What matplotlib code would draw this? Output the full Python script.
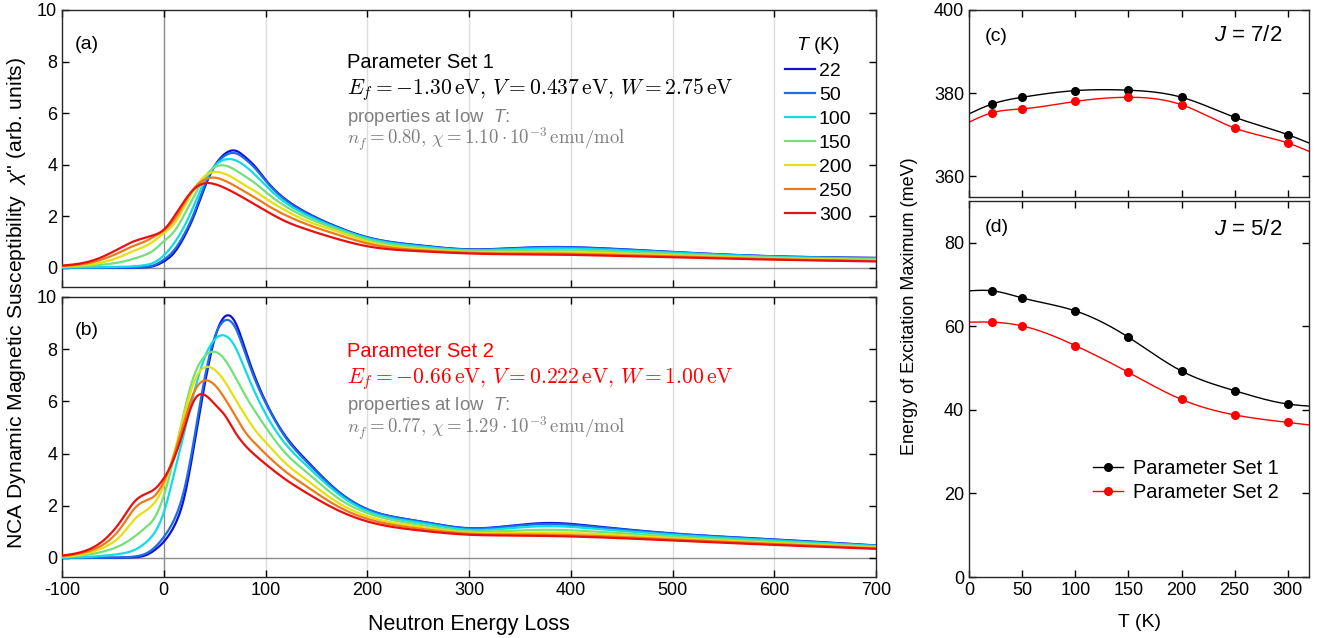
import numpy as np
import matplotlib
matplotlib.use('Agg')
import matplotlib.pyplot as plt

plt.rcParams['font.family'] = ['Liberation Sans', 'DejaVu Sans']
plt.rcParams['mathtext.fontset'] = 'cm'
plt.rcParams['mathtext.rm'] = 'Liberation Sans'
plt.rcParams['mathtext.it'] = 'Liberation Sans:italic'
plt.rcParams['mathtext.bf'] = 'Liberation Sans:bold'
plt.rcParams['axes.unicode_minus'] = False
plt.rcParams['xtick.direction'] = 'in'
plt.rcParams['ytick.direction'] = 'in'
plt.rcParams['xtick.top'] = True
plt.rcParams['ytick.right'] = True
plt.rcParams['axes.linewidth'] = 1.0
plt.rcParams['axes.edgecolor'] = '#262626'

# ---------------- data ----------------
temps = [22, 50, 100, 150, 200, 250, 300]
temp_colors = ['#1010d8', '#1a6ee6', '#10dce6', '#74e07a', '#e6e010', '#f07818', '#e81010']

energy_a = [-100, -76, -59, -43, -30, -20, -10, 0, 10, 20, 30, 40, 50, 60, 70, 80, 90, 100,
            120, 140, 170, 200, 250, 300, 340, 380, 420, 500, 600, 700]
chi_a_22 = [0.0, 0.0, 0.0, 0.0, 0.01, 0.02, 0.07, 0.25, 0.58, 1.2, 2.05, 3.1, 3.95, 4.42, 4.55, 4.3, 3.92, 3.42,
            2.65, 2.15, 1.6, 1.19, 0.88, 0.72, 0.76, 0.81, 0.78, 0.62, 0.45, 0.39]
chi_a_50 = [0.0, 0.0, 0.0, 0.01, 0.02, 0.04, 0.1, 0.32, 0.68, 1.3, 2.15, 3.2, 3.95, 4.35, 4.45, 4.22, 3.85, 3.38,
            2.62, 2.12, 1.58, 1.18, 0.87, 0.71, 0.75, 0.80, 0.77, 0.61, 0.45, 0.38]
chi_a_100 = [0.01, 0.02, 0.03, 0.04, 0.06, 0.1, 0.2, 0.48, 0.95, 1.6, 2.45, 3.35, 3.95, 4.2, 4.18, 3.95, 3.6, 3.2,
             2.52, 2.06, 1.55, 1.15, 0.84, 0.69, 0.72, 0.76, 0.73, 0.59, 0.43, 0.36]
chi_a_150 = [0.03, 0.07, 0.13, 0.22, 0.35, 0.48, 0.68, 1.03, 1.4, 2.05, 2.8, 3.5, 3.9, 3.97, 3.8, 3.55, 3.28, 2.95,
             2.38, 1.96, 1.5, 1.1, 0.79, 0.66, 0.67, 0.69, 0.66, 0.54, 0.40, 0.33]
chi_a_200 = [0.05, 0.12, 0.23, 0.43, 0.65, 0.81, 1.03, 1.35, 1.7, 2.35, 3.05, 3.55, 3.72, 3.65, 3.45, 3.2, 2.97, 2.7,
             2.22, 1.83, 1.42, 1.02, 0.74, 0.62, 0.61, 0.61, 0.59, 0.49, 0.37, 0.30]
chi_a_250 = [0.07, 0.17, 0.35, 0.61, 0.85, 1.0, 1.2, 1.45, 1.85, 2.5, 3.1, 3.42, 3.5, 3.38, 3.18, 2.95, 2.72, 2.47,
             2.04, 1.7, 1.3, 0.95, 0.69, 0.59, 0.56, 0.56, 0.53, 0.45, 0.34, 0.27]
chi_a_300 = [0.09, 0.22, 0.45, 0.77, 1.02, 1.15, 1.27, 1.48, 1.98, 2.58, 3.06, 3.28, 3.25, 3.1, 2.9, 2.68, 2.45, 2.22,
             1.8, 1.5, 1.13, 0.84, 0.65, 0.56, 0.53, 0.52, 0.49, 0.41, 0.32, 0.25]

energy_b = [-100, -74, -58, -41, -28, -18, -9, 0, 10, 20, 30, 40, 50, 60, 70, 80, 90, 100,
            120, 140, 170, 200, 250, 300, 340, 380, 420, 500, 600, 700]
chi_b_22 = [0.0, 0.0, 0.0, 0.01, 0.03, 0.1, 0.3, 0.62, 1.2, 2.3, 4.35, 6.6, 8.4, 9.25, 9.05, 8.0, 6.9, 6.0,
            4.65, 3.75, 2.6, 1.87, 1.42, 1.14, 1.23, 1.34, 1.23, 0.94, 0.71, 0.48]
chi_b_50 = [0.0, 0.0, 0.01, 0.02, 0.06, 0.16, 0.4, 0.8, 1.45, 2.6, 4.6, 6.85, 8.45, 9.1, 8.85, 7.85, 6.8, 5.95,
            4.6, 3.7, 2.58, 1.86, 1.41, 1.13, 1.21, 1.30, 1.20, 0.93, 0.70, 0.47]
chi_b_100 = [0.01, 0.04, 0.09, 0.17, 0.32, 0.58, 0.97, 1.74, 3.2, 4.8, 6.37, 7.66, 8.37, 8.52, 8.1, 7.21, 6.31, 5.53,
             4.35, 3.55, 2.5, 1.8, 1.36, 1.08, 1.14, 1.22, 1.13, 0.89, 0.67, 0.46]
chi_b_150 = [0.03, 0.13, 0.26, 0.51, 0.84, 1.16, 1.54, 2.38, 3.85, 5.6, 7.01, 7.72, 7.9, 7.6, 6.95, 6.24, 5.6, 5.02,
             4.0, 3.3, 2.33, 1.72, 1.28, 1.02, 1.04, 1.08, 1.02, 0.82, 0.62, 0.43]
chi_b_200 = [0.04, 0.19, 0.42, 0.90, 1.51, 1.80, 2.12, 2.77, 4.0, 5.47, 6.76, 7.3, 7.21, 6.76, 6.11, 5.47, 4.89, 4.44,
             3.62, 3.0, 2.15, 1.6, 1.2, 0.97, 0.96, 0.97, 0.93, 0.76, 0.58, 0.40]
chi_b_250 = [0.06, 0.26, 0.55, 1.22, 1.93, 2.19, 2.38, 2.92, 3.93, 5.21, 6.37, 6.8, 6.63, 6.11, 5.47, 4.83, 4.38, 3.99,
             3.3, 2.75, 2.0, 1.5, 1.13, 0.93, 0.9, 0.89, 0.85, 0.71, 0.54, 0.37]
chi_b_300 = [0.09, 0.32, 0.71, 1.48, 2.19, 2.45, 2.64, 3.05, 3.8, 4.95, 6.05, 6.25, 5.9, 5.47, 4.83, 4.31, 3.93, 3.6,
             3.0, 2.5, 1.85, 1.4, 1.06, 0.89, 0.86, 0.84, 0.80, 0.67, 0.50, 0.35]

T_points = [22, 50, 100, 150, 200, 250, 300]
T_range = [0, 320]
emax_j72_set1 = [377.4, 379.0, 380.6, 380.7, 379.0, 374.2, 370.0]
emax_j72_set2 = [375.3, 376.2, 378.0, 379.0, 377.2, 371.6, 368.0]
emax_j72_set1_ends = [375.0, 368.0]
emax_j72_set2_ends = [373.0, 366.0]
emax_j52_set1 = [68.5, 66.8, 63.7, 57.4, 49.3, 44.6, 41.4]
emax_j52_set2 = [61.0, 60.1, 55.4, 49.0, 42.5, 38.8, 37.0]
emax_j52_set1_ends = [68.5, 40.9]
emax_j52_set2_ends = [61.0, 36.4]

xticks_left = [-100, 0, 100, 200, 300, 400, 500, 600, 700]
yticks_left = [0, 2, 4, 6, 8, 10]
xticks_right = [0, 50, 100, 150, 200, 250, 300]


def cspline(x, y, xn):
    """natural cubic spline through the given points (rendering only)"""
    x = np.asarray(x, float); y = np.asarray(y, float); xn = np.asarray(xn, float)
    n = len(x); h = np.diff(x)
    A = np.zeros((n, n)); r = np.zeros(n)
    A[0, 0] = 1; A[-1, -1] = 1
    for i in range(1, n - 1):
        A[i, i - 1] = h[i - 1]; A[i, i] = 2 * (h[i - 1] + h[i]); A[i, i + 1] = h[i]
        r[i] = 6 * ((y[i + 1] - y[i]) / h[i] - (y[i] - y[i - 1]) / h[i - 1])
    M = np.linalg.solve(A, r)
    idx = np.clip(np.searchsorted(x, xn) - 1, 0, n - 2)
    t = xn - x[idx]; hh = h[idx]
    b = (y[idx + 1] - y[idx]) / hh - hh * (2 * M[idx] + M[idx + 1]) / 6
    return y[idx] + b * t + M[idx] / 2 * t**2 + (M[idx + 1] - M[idx]) / (6 * hh) * t**3


W, H = 1328, 638
fig = plt.figure(figsize=(W / 100, H / 100), dpi=100)


def rect(l, t, r, b):
    return [l / W, 1 - b / H, (r - l) / W, (b - t) / H]


TFS = 13      # tick labels
LFS = 14.5    # annotations
GRAY = '#7f7f7f'

ax_a = fig.add_axes(rect(62, 10, 876, 287))
ax_b = fig.add_axes(rect(62, 297, 876, 577))
ax_c = fig.add_axes(rect(969, 10, 1309, 197))
ax_d = fig.add_axes(rect(969, 201, 1309, 577))

series_a = [chi_a_22, chi_a_50, chi_a_100, chi_a_150, chi_a_200, chi_a_250, chi_a_300]
series_b = [chi_b_22, chi_b_50, chi_b_100, chi_b_150, chi_b_200, chi_b_250, chi_b_300]

for ax, en, ser, ylo in [(ax_a, energy_a, series_a, -0.74), (ax_b, energy_b, series_b, -0.73)]:
    ax.set_xlim(-100, 700)
    ax.set_ylim(ylo, 10)
    for g in [100, 200, 300, 400, 500, 600]:
        ax.axvline(g, color='#dcdcdc', lw=1.0, zorder=0)
    ax.axvline(0, color='#8c8c8c', lw=1.0, zorder=1)
    ax.axhline(0, color='#8c8c8c', lw=1.0, zorder=1)
    fine = np.linspace(-100, 700, 1601)
    for T, c, s in zip(temps, temp_colors, ser):
        ax.plot(fine, cspline(en, s, fine), color=c, lw=1.6, label=str(T), zorder=3)
    ax.set_xticks(xticks_left)
    ax.set_yticks(yticks_left)
    ax.tick_params(labelsize=TFS, length=5, width=1)

ax_a.tick_params(labelbottom=False)
ax_b.set_xticklabels([str(v) for v in xticks_left])
ax_b.set_xlabel('Neutron Energy Loss', fontsize=15.5, labelpad=11)

ax_a.text(0.016, 0.875, '(a)', transform=ax_a.transAxes, fontsize=14, va='center')
ax_b.text(0.016, 0.88, '(b)', transform=ax_b.transAxes, fontsize=14, va='center')

x0 = 180
ax_a.text(x0, 7.95, 'Parameter Set 1', fontsize=LFS, va='center', color='black')
ax_a.text(x0, 6.9, r'$E_f = -1.30\,\mathrm{eV},\, V = 0.437\,\mathrm{eV},\, W = 2.75\,\mathrm{eV}$',
          fontsize=15.5, va='center', color='black')
ax_a.text(x0, 5.85, r'properties at low  $T$:', fontsize=13.3, va='center', color=GRAY,
          math_fontfamily='custom')
ax_a.text(x0, 5.0, r'$n_f = 0.80,\, \chi = 1.10\cdot 10^{-3}\,\mathrm{emu/mol}$',
          fontsize=13.5, va='center', color=GRAY)

ax_b.text(x0, 7.9, 'Parameter Set 2', fontsize=LFS, va='center', color='#ff0000')
ax_b.text(x0, 6.87, r'$E_f = -0.66\,\mathrm{eV},\, V = 0.222\,\mathrm{eV},\, W = 1.00\,\mathrm{eV}$',
          fontsize=15.5, va='center', color='#ff0000')
ax_b.text(x0, 5.85, r'properties at low  $T$:', fontsize=13.3, va='center', color=GRAY,
          math_fontfamily='custom')
ax_b.text(x0, 4.95, r'$n_f = 0.77,\, \chi = 1.29\cdot 10^{-3}\,\mathrm{emu/mol}$',
          fontsize=13.5, va='center', color=GRAY)

leg = ax_a.legend(loc='upper left', bbox_to_anchor=(0.876, 0.945), frameon=False, fontsize=14,
                  handlelength=1.55, handletextpad=0.2, labelspacing=0.33, borderpad=0,
                  title=r'$T$ (K)', title_fontsize=14)
leg.get_title().set_math_fontfamily('custom')

fig.text(17 / W, 1 - 303 / H, r"NCA Dynamic Magnetic Susceptibility  $\chi$'' (arb. units)",
         rotation=90, va='center', ha='center', fontsize=15.2, math_fontfamily='custom')

# right panels
fineT = np.linspace(0, 320, 400)
for ax, s1, s2, e1, e2 in [(ax_c, emax_j72_set1, emax_j72_set2, emax_j72_set1_ends, emax_j72_set2_ends),
                           (ax_d, emax_j52_set1, emax_j52_set2, emax_j52_set1_ends, emax_j52_set2_ends)]:
    Tl = [T_range[0]] + T_points + [T_range[1]]
    l1 = [e1[0]] + s1 + [e1[1]]
    l2 = [e2[0]] + s2 + [e2[1]]
    ax.plot(fineT, cspline(Tl, l1, fineT), color='black', lw=1.0)
    ax.plot(fineT, cspline(Tl, l2, fineT), color='#ff0000', lw=1.0)
    ax.plot(T_points, s1, 'o', color='black', ms=5.5)
    ax.plot(T_points, s2, 'o', color='#ff0000', ms=5.5)
    ax.set_xlim(0, 320)
    ax.set_xticks(xticks_right)
    ax.tick_params(labelsize=TFS, length=5, width=1)

ax_c.set_ylim(355, 400)
ax_c.set_yticks([360, 380, 400])
ax_c.tick_params(labelbottom=False)
ax_d.set_ylim(0, 90)
ax_d.set_yticks([0, 20, 40, 60, 80])
ax_d.set_xlabel('T (K)', fontsize=14, labelpad=11)

ax_c.text(0.045, 0.86, '(c)', transform=ax_c.transAxes, fontsize=14, va='center')
ax_d.text(0.045, 0.93, '(d)', transform=ax_d.transAxes, fontsize=14, va='center')
ax_c.text(0.923, 0.866, r'$J$ = 7/2', transform=ax_c.transAxes, fontsize=16, va='center', ha='right',
          math_fontfamily='custom')
ax_d.text(0.923, 0.923, r'$J$ = 5/2', transform=ax_d.transAxes, fontsize=16, va='center', ha='right',
          math_fontfamily='custom')

h1, = ax_d.plot([], [], '-o', color='black', ms=5.5, lw=1.0)
h2, = ax_d.plot([], [], '-o', color='#ff0000', ms=5.5, lw=1.0)
ax_d.legend([h1, h2], ['Parameter Set 1', 'Parameter Set 2'], loc='upper left',
            bbox_to_anchor=(0.336, 0.341), frameon=False, fontsize=14.4,
            handlelength=1.5, handletextpad=0.5, labelspacing=0.25, borderpad=0)

fig.text(910 / W, 1 - 306 / H, 'Energy of Excitation Maximum (meV)', rotation=90,
         va='center', ha='center', fontsize=13)

fig.savefig('out.png', dpi=100)
